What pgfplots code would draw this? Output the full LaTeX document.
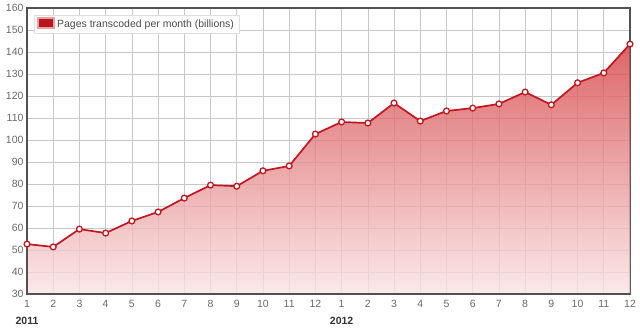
\documentclass[border=0pt]{standalone}
\usepackage{pgfplots}
\pgfplotsset{compat=1.18}
\usepackage{fontspec}
\setmainfont{Liberation Sans}
\usetikzlibrary{calc}
\definecolor{linered}{RGB}{196,22,32}
\definecolor{filltop}{RGB}{212,64,66}
\definecolor{fillbot}{RGB}{250,228,229}
\definecolor{gridc}{RGB}{200,200,200}
\definecolor{framec}{RGB}{85,80,80}
\definecolor{tickc}{RGB}{105,105,105}
\begin{document}
\begin{tikzpicture}
\begin{axis}[
  scale only axis,
  width=603pt, height=286pt,
  xmin=0, xmax=23, ymin=30, ymax=160,
  xtick={0,...,23},
  xticklabels={{1\\\textbf{\color{black!80}2011}},2,3,4,5,6,7,8,9,10,11,12,{1\\\textbf{\color{black!80}2012}},2,3,4,5,6,7,8,9,10,11,12},
  xticklabel style={align=center, font=\fontsize{10.5}{17}\selectfont, text=tickc, yshift=-3pt},
  ytick={30,40,...,160},
  yticklabel style={font=\fontsize{10.5}{12}\selectfont, text=tickc},
  /pgf/number format/assume math mode=true,
  major tick length=0pt,
  grid=major,
  major grid style={gridc, line width=0.6pt},
  axis line style={framec, line width=1.3pt},
  legend style={at={(0.012,0.975)}, anchor=north west, draw=gridc!60, fill=white,
    font=\fontsize{10.5}{12}\selectfont, text=black!70, inner xsep=3pt, inner ysep=2pt},
  legend cell align=left,
  clip=false,
]
\addplot[draw=none, fill opacity=0.8, top color=filltop, bottom color=fillbot, forget plot]
coordinates {
(0,52.7)(1,51.4)(2,59.5)(3,57.7)(4,63.2)(5,67.3)(6,73.6)(7,79.5)(8,79)(9,86)(10,88.2)(11,102.7)
(12,108.2)(13,107.7)(14,116.8)(15,108.6)(16,113.2)(17,114.5)(18,116.4)(19,121.8)(20,116)(21,126)(22,130.5)(23,143.6)
} \closedcycle;
\addplot[linered, line width=1.7pt, mark=*, mark size=2.9pt,
  mark options={fill=white, draw=linered, line width=1.3pt},
  legend image code/.code={\draw[fill=linered!95!black, draw=linered!40] (0pt,-4pt) rectangle (16pt,6pt);}]
coordinates {
(0,52.7)(1,51.4)(2,59.5)(3,57.7)(4,63.2)(5,67.3)(6,73.6)(7,79.5)(8,79)(9,86)(10,88.2)(11,102.7)
(12,108.2)(13,107.7)(14,116.8)(15,108.6)(16,113.2)(17,114.5)(18,116.4)(19,121.8)(20,116)(21,126)(22,130.5)(23,143.6)
};
\addlegendentry{Pages transcoded per month (billions)}
\draw[framec, line width=2.6pt] (rel axis cs:0,1) -- (rel axis cs:0,0) -- (rel axis cs:1,0);
\coordinate (ll) at (rel axis cs:0,0);
\coordinate (ur) at (rel axis cs:1,1);
\end{axis}
\pgfresetboundingbox
\path ($(ll)+(-27pt,-39pt)$) rectangle ($(ur)+(10pt,8pt)$);
\end{tikzpicture}
\end{document}
